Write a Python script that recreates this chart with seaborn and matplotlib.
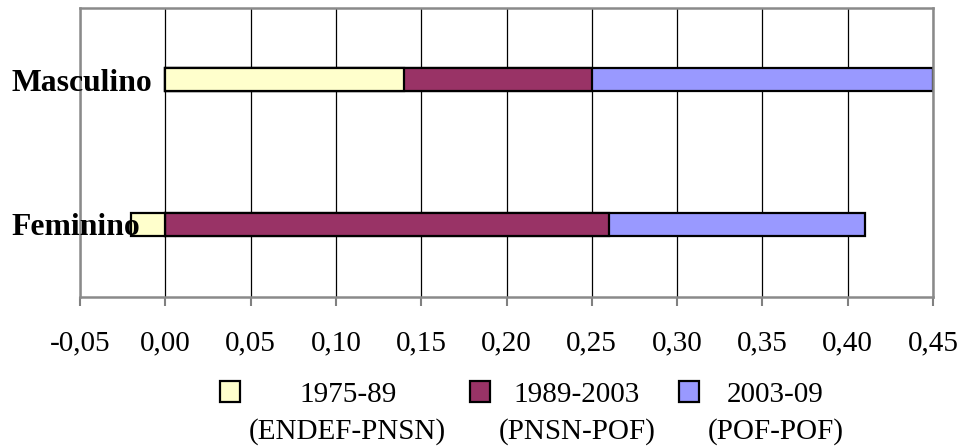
import numpy as np
import matplotlib
matplotlib.use("Agg")
import matplotlib.pyplot as plt
import seaborn as sns
from matplotlib.patches import Rectangle
from matplotlib.legend_handler import HandlerPatch

# Categories and contributions of each survey period
categories = ["Masculino", "Feminino"]
periods = ["1975-89\n(ENDEF-PNSN)", "1989-2003\n(PNSN-POF)", "2003-09\n(POF-POF)"]
v_1975_89 = [0.14, -0.02]
v_1989_2003 = [0.11, 0.26]
v_2003_09 = [0.20, 0.15]
colors = ["#FFFFCC", "#993366", "#9999FF"]

xticks = [-0.05, 0.00, 0.05, 0.10, 0.15, 0.20, 0.25, 0.30, 0.35, 0.40, 0.45]
xtick_labels = ["-0,05", "0,00", "0,05", "0,10", "0,15", "0,20",
                "0,25", "0,30", "0,35", "0,40", "0,45"]

sns.set_style("white")
plt.rcParams["font.family"] = ["Liberation Serif", "DejaVu Serif"]
plt.rcParams["text.color"] = "black"
plt.rcParams["xtick.labelcolor"] = "black"
plt.rcParams["ytick.labelcolor"] = "black"

# Stack positives to the right of zero and negatives to the left
series = np.array([v_1975_89, v_1989_2003, v_2003_09])
pos_cum = np.where(series > 0, series, 0).cumsum(axis=0)
neg_cum = np.where(series < 0, series, 0).cumsum(axis=0)
ends = np.where(series < 0, neg_cum, pos_cum)

fig = plt.figure(figsize=(9.65, 4.48), dpi=100)
W, H = 965, 448
ax = fig.add_axes([80 / W, 1 - 296.5 / H, (933 - 80) / W, (296.5 - 7.5) / H])

# Draw from outermost segment inward so each inner segment sits on top
for i in reversed(range(len(series))):
    sns.barplot(x=ends[i], y=categories, orient="h", color=colors[i],
                saturation=1, width=0.16, edgecolor="black", linewidth=1.6,
                errorbar=None, ax=ax)

ax.set_xlim(-0.05, 0.45)
ax.set_ylim(1.5, -0.5)
ax.set_xlabel("")
ax.set_ylabel("")

ax.set_xticks(xticks)
ax.set_xticklabels(xtick_labels, fontsize=21, color="black")
ax.tick_params(axis="x", direction="out", length=6.5, width=1.5,
               color="#808080", pad=18, bottom=True)

ax.set_yticks(range(len(categories)))
ax.set_yticklabels(categories, fontsize=22.8, fontweight="bold", color="black")
for lab in ax.get_yticklabels():
    lab.set_horizontalalignment("left")
ax.tick_params(axis="y", length=0, pad=49.5)

# Vertical grid behind the bars, category labels in front of them
ax.set_axisbelow(True)
ax.yaxis.set_zorder(3)
ax.xaxis.grid(True, color="black", linewidth=0.9)
ax.yaxis.grid(False)
for sp in ax.spines.values():
    sp.set_visible(True)
    sp.set_color("#8a8a8a")
    sp.set_linewidth(1.8)


def raised_square(legend, orig_handle, xdescent, ydescent, width, height, fontsize):
    # Align the swatch with the first line of a two-line label
    return Rectangle((-xdescent, -ydescent + 0.74 * fontsize), width, height)


handles = [Rectangle((0, 0), 1, 1, facecolor=c, edgecolor="black", linewidth=1.6)
           for c in colors]
leg = fig.legend(handles, periods, loc="upper center",
                 bbox_to_anchor=(532 / W, 1 - 367 / H), ncol=3, frameon=False,
                 fontsize=21, handlelength=0.69, handleheight=0.69,
                 handletextpad=0.3, columnspacing=0.8, borderpad=0,
                 handler_map={Rectangle: HandlerPatch(patch_func=raised_square)})
for t in leg.get_texts():
    t.set_linespacing(1.5)
    t.set_multialignment("center")
    t.set_color("black")

fig.savefig("out.png", dpi=100)
